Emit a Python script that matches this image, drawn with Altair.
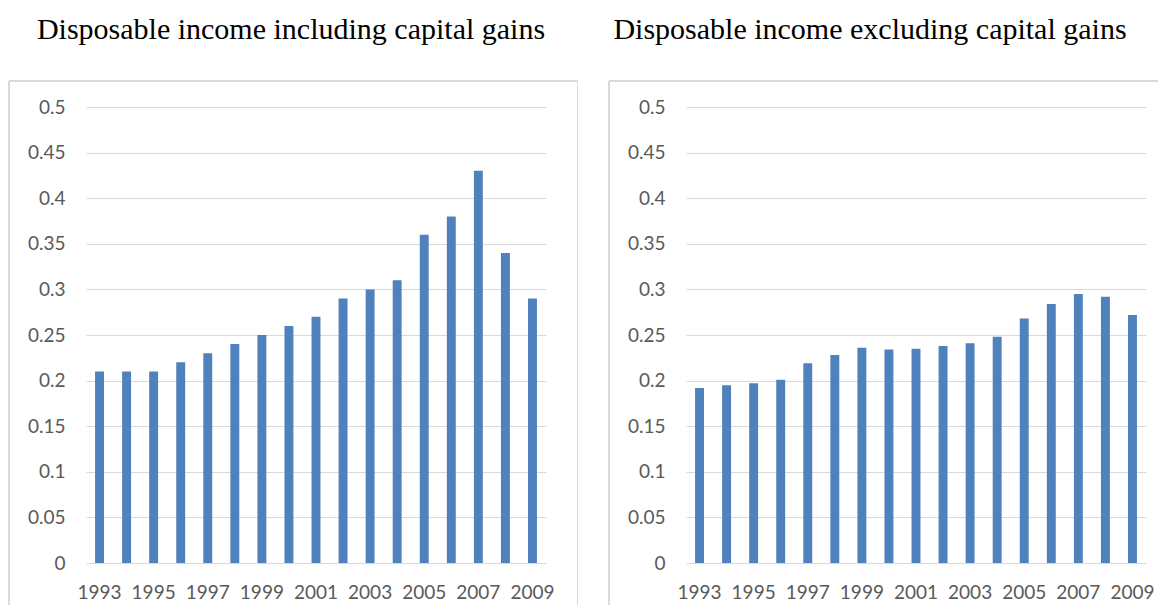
import altair as alt
import pandas as pd

years = list(range(1993, 2010))
incl_cg = [0.21, 0.21, 0.21, 0.22, 0.23, 0.24, 0.25, 0.26, 0.27, 0.29, 0.30, 0.31, 0.36, 0.38, 0.43, 0.34, 0.29]
excl_cg = [0.192, 0.195, 0.197, 0.201, 0.219, 0.228, 0.236, 0.234, 0.235, 0.238, 0.241, 0.248, 0.268, 0.284, 0.295, 0.292, 0.272]
titles = ["Disposable income including capital gains", "Disposable income excluding capital gains"]
label_years = [1993, 1995, 1997, 1999, 2001, 2003, 2005, 2007, 2009]
y_ticks = [0, 0.05, 0.1, 0.15, 0.2, 0.25, 0.3, 0.35, 0.4, 0.45, 0.5]

BAR = "#4F81BD"
BORDER = "#D9D9D9"
W, H = 460, 456


def panel(values, title, dx, right_edge, right_side):
    df = pd.DataFrame({"year": years, "value": values})
    base = alt.Chart(df)
    bars = base.mark_bar(color=BAR).encode(
        x=alt.X("year:O",
                scale=alt.Scale(paddingInner=0.67, paddingOuter=0.335),
                axis=alt.Axis(title=None, values=label_years, labelAngle=0,
                              ticks=False, domain=False, grid=False,
                              labelPadding=20)),
        y=alt.Y("value:Q",
                scale=alt.Scale(domain=[0, 0.5], nice=False),
                axis=alt.Axis(title=None, values=y_ticks, format=".2~f",
                              ticks=False, domain=False, grid=True,
                              gridColor=BORDER, gridWidth=1,
                              labelPadding=21, minExtent=78, maxExtent=78)),
    )
    top = base.mark_rule(color=BORDER, strokeWidth=1).encode(
        x=alt.value(-77), x2=alt.value(right_edge), y=alt.value(-26))
    left = base.mark_rule(color=BORDER, strokeWidth=1).encode(
        x=alt.value(-77), y=alt.value(-26), y2=alt.value(498))
    layers = [top, left]
    if right_side:
        right = base.mark_rule(color=BORDER, strokeWidth=1).encode(
            x=alt.value(right_edge), y=alt.value(-26), y2=alt.value(498))
        layers.append(right)
    layers.append(bars)
    return alt.layer(*layers).properties(
        width=W, height=H,
        title=alt.TitleParams(text=title, anchor="middle", frame="group",
                              dx=dx, offset=12, baseline="alphabetic"),
    )


chart = alt.hconcat(
    panel(incl_cg, titles[0], -25, 491.5, True),
    panel(excl_cg, titles[1], -46, 472, False),
    spacing=30,
).properties(
    padding={"left": 0, "top": 6, "right": 0, "bottom": 0}
).configure_view(stroke=None).configure_axis(
    labelFont="Lato", labelFontSize=19, labelColor="#595959"
).configure_title(
    font="Liberation Serif", fontSize=30, fontWeight="normal", color="#000000"
)

chart.save("out.html", embed_options={"renderer": "svg", "actions": False})
